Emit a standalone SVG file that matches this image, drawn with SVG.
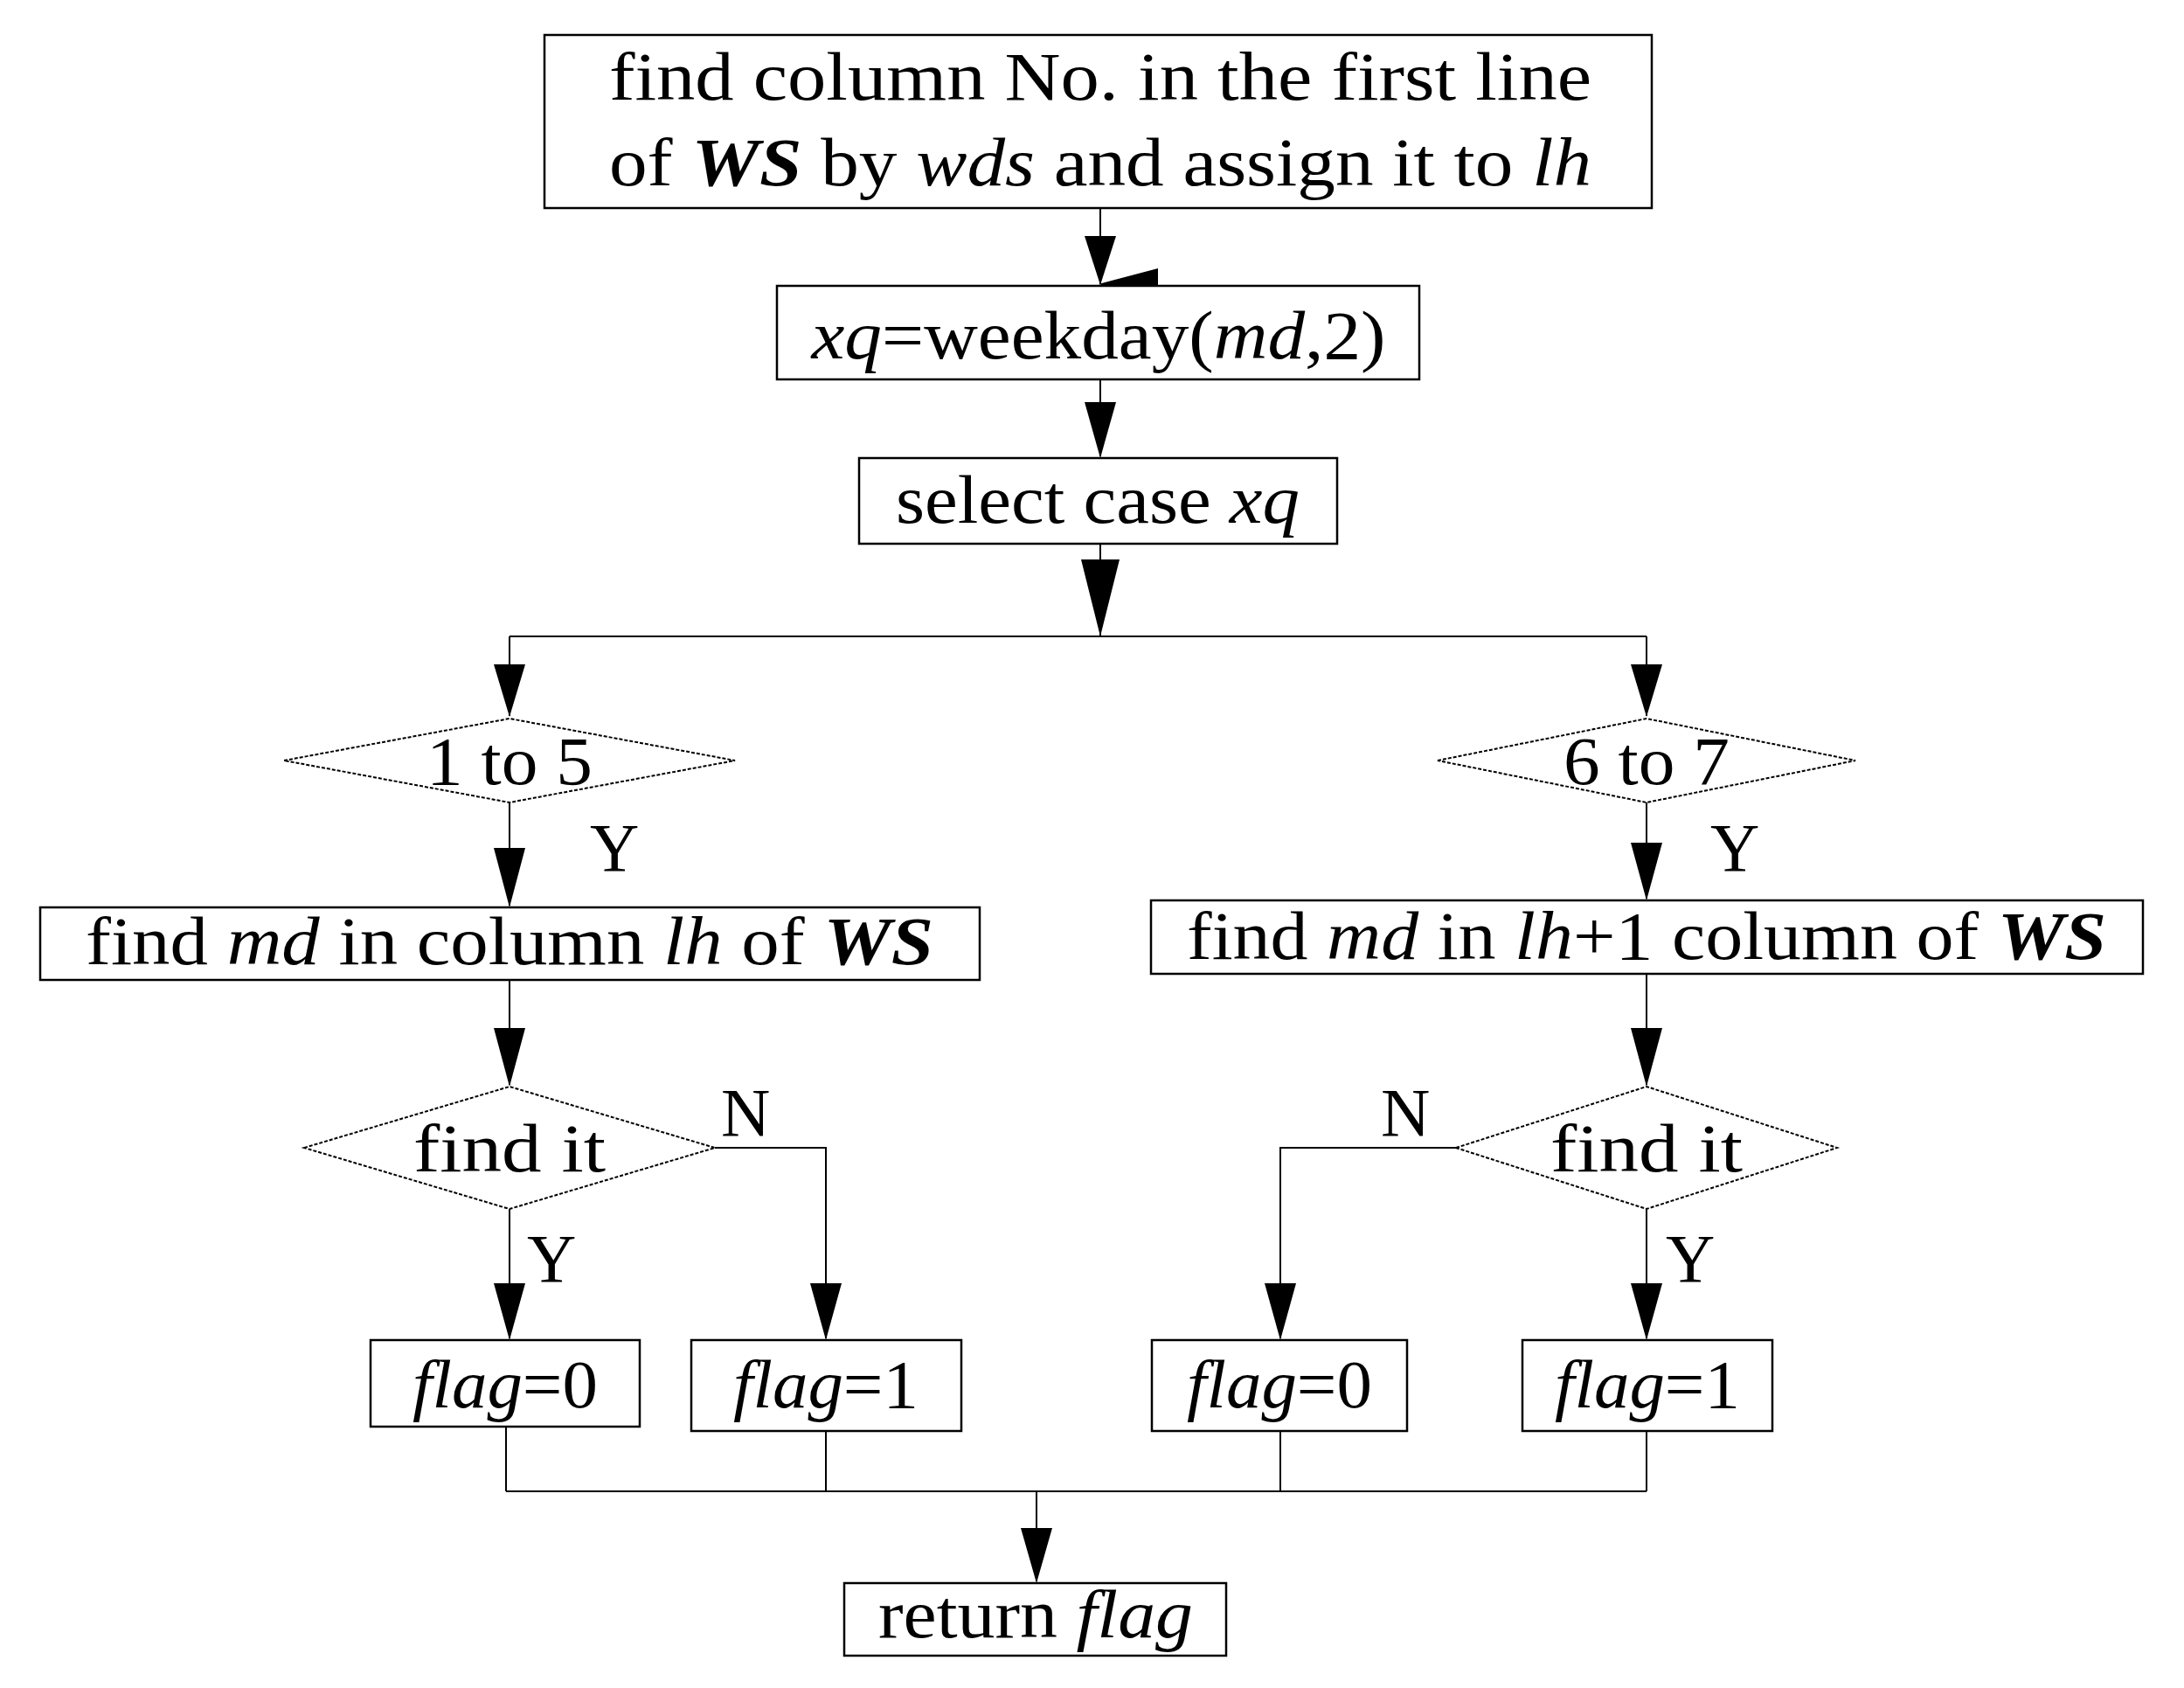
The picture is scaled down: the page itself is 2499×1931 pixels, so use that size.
<svg xmlns="http://www.w3.org/2000/svg" width="2499" height="1931" viewBox="0 0 2499 1931">
<style>
.b{fill:#fff;stroke:#000;stroke-width:2.5}
.d{fill:#fff;stroke:#000;stroke-width:2;stroke-dasharray:4 2}
.t{font-family:"Liberation Serif",serif;font-size:78px;fill:#000;text-anchor:middle}
.l{font-family:"Liberation Serif",serif;font-size:78px;fill:#000}
.c{fill:none;stroke:#000;stroke-width:2}
</style>
<defs>
<marker id="a" markerUnits="userSpaceOnUse" markerWidth="40" markerHeight="70" refX="20" refY="66" orient="auto-start-reverse" viewBox="0 0 40 70">
<path d="M2 0 L38 0 L20 68 Z" fill="#000" transform="rotate(0)"/>
</marker>
</defs>
<g id="connectors">
<path class="c" d="M1259 238 V325" marker-end="url(#a)" transform="rotate(0)"/>
<path class="c" d="M1259 434 V522"/>
<path class="c" d="M1259 622 V728 M583 728 H1884 M583 728 V819 M1884 728 V819"/>
<path class="c" d="M583 918 V1036 M1884 918 V1028 M583 1121 V1241 M1884 1114 V1241"/>
<path class="c" d="M583 1383 V1531 M818 1313 H945 V1531 M1666 1313 H1465 V1531 M1884 1383 V1531"/>
<path class="c" d="M579 1632 V1706 M945 1637 V1706 M1465 1637 V1706 M1884 1637 V1706 M579 1706 H1884 M1186 1706 V1809"/>
</g>
<g id="arrowheads">
<path d="M1241 270 L1277 270 L1259 326 Z"/>
<path d="M1241 460 L1277 460 L1259 524 Z"/>
<path d="M1237 640 L1281 640 L1259 728 Z"/>
<path d="M565 760 L601 760 L583 820 Z"/>
<path d="M1866 760 L1902 760 L1884 820 Z"/>
<path d="M565 970 L601 970 L583 1038 Z"/>
<path d="M1866 964 L1902 964 L1884 1030 Z"/>
<path d="M565 1176 L601 1176 L583 1243 Z"/>
<path d="M1866 1176 L1902 1176 L1884 1243 Z"/>
<path d="M565 1468 L601 1468 L583 1533 Z"/>
<path d="M927 1468 L963 1468 L945 1533 Z"/>
<path d="M1447 1468 L1483 1468 L1465 1533 Z"/>
<path d="M1866 1468 L1902 1468 L1884 1533 Z"/>
<path d="M1168 1748 L1204 1748 L1186 1811 Z"/>
</g>
<g id="n1"><rect class="b" x="623" y="40" width="1267" height="198"/>
<text class="t" x="1259" y="114" textLength="1124" lengthAdjust="spacingAndGlyphs">find column No. in the first line</text>
<text class="t" x="1259" y="212" textLength="1124" lengthAdjust="spacingAndGlyphs">of <tspan font-weight="bold" font-style="italic">WS</tspan> by <tspan font-style="italic">wds</tspan> and assign it to <tspan font-style="italic">lh</tspan></text></g>
<g id="n2"><rect class="b" x="889" y="327" width="735" height="107"/>
<text class="t" x="1257" y="410" textLength="657" lengthAdjust="spacingAndGlyphs"><tspan font-style="italic">xq</tspan>=weekday(<tspan font-style="italic">md</tspan>,2)</text></g>
<g id="n3"><rect class="b" x="983" y="524" width="547" height="98"/>
<text class="t" x="1256" y="598" textLength="462" lengthAdjust="spacingAndGlyphs">select case <tspan font-style="italic">xq</tspan></text></g>
<g id="d1"><polygon class="d" points="325,870 583,822 841,870 583,918"/>
<text class="t" x="583" y="897" textLength="190" lengthAdjust="spacingAndGlyphs">1 to 5</text></g>
<g id="d2"><polygon class="d" points="1645,870 1884,822 2123,870 1884,918"/>
<text class="t" x="1884" y="897" textLength="190" lengthAdjust="spacingAndGlyphs">6 to 7</text></g>
<text class="l" x="675" y="996">Y</text>
<text class="l" x="1957" y="996">Y</text>
<g id="n4"><rect class="b" x="46" y="1038" width="1075" height="83"/>
<text class="t" x="583" y="1103" textLength="970" lengthAdjust="spacingAndGlyphs">find <tspan font-style="italic">md</tspan> in column <tspan font-style="italic">lh</tspan> of <tspan font-weight="bold" font-style="italic">WS</tspan></text></g>
<g id="n5"><rect class="b" x="1317" y="1030" width="1135" height="84"/>
<text class="t" x="1884" y="1097" textLength="1052" lengthAdjust="spacingAndGlyphs">find <tspan font-style="italic">md</tspan> in <tspan font-style="italic">lh</tspan>+1 column of <tspan font-weight="bold" font-style="italic">WS</tspan></text></g>
<g id="d3"><polygon class="d" points="348,1313 583,1243 818,1313 583,1383"/>
<text class="t" x="583" y="1340" textLength="220" lengthAdjust="spacingAndGlyphs">find it</text></g>
<g id="d4"><polygon class="d" points="1666,1313 1884,1243 2102,1313 1884,1383"/>
<text class="t" x="1884" y="1340" textLength="220" lengthAdjust="spacingAndGlyphs">find it</text></g>
<text class="l" x="825" y="1299">N</text>
<text class="l" x="1580" y="1299">N</text>
<text class="l" x="603" y="1466">Y</text>
<text class="l" x="1906" y="1466">Y</text>
<g id="n6"><rect class="b" x="424" y="1533" width="308" height="99"/>
<text class="t" x="578" y="1610" textLength="212" lengthAdjust="spacingAndGlyphs"><tspan font-style="italic">flag</tspan>=0</text></g>
<g id="n7"><rect class="b" x="791" y="1533" width="309" height="104"/>
<text class="t" x="945" y="1610" textLength="212" lengthAdjust="spacingAndGlyphs"><tspan font-style="italic">flag</tspan>=1</text></g>
<g id="n8"><rect class="b" x="1318" y="1533" width="292" height="104"/>
<text class="t" x="1464" y="1610" textLength="212" lengthAdjust="spacingAndGlyphs"><tspan font-style="italic">flag</tspan>=0</text></g>
<g id="n9"><rect class="b" x="1742" y="1533" width="286" height="104"/>
<text class="t" x="1885" y="1610" textLength="212" lengthAdjust="spacingAndGlyphs"><tspan font-style="italic">flag</tspan>=1</text></g>
<g id="n10"><rect class="b" x="966" y="1811" width="437" height="83"/>
<text class="t" x="1185" y="1873" textLength="360" lengthAdjust="spacingAndGlyphs">return <tspan font-style="italic">flag</tspan></text></g>
</svg>
